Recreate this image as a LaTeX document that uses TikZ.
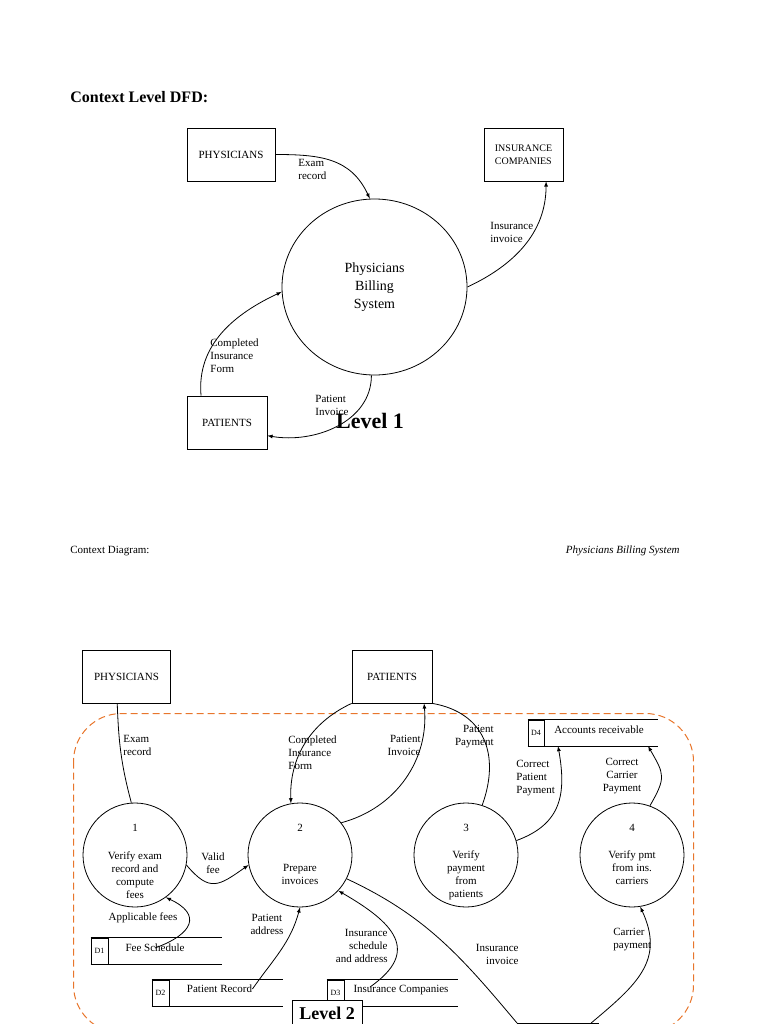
\documentclass[tikz,border=0pt]{standalone}
\usepackage{fontspec}
\setmainfont{Liberation Serif}
\usetikzlibrary{arrows,shapes.geometric}
\definecolor{dashorange}{RGB}{232,118,44}

\begin{document}
\begin{tikzpicture}[x=1pt,y=-1pt,>=latex,line width=0.8pt,
  every node/.style={font=\fontsize{11}{13}\selectfont,inner sep=0pt},
  ent/.style={draw,minimum width=88,minimum height=53},
  proc/.style={circle,draw,minimum size=104},
  lbl/.style={align=left},
  store/.style={draw,minimum width=17,minimum height=26,font=\fontsize{8}{9}\selectfont}]
  \useasboundingbox (0,0) rectangle (768,1024);
  \clip (0,0) rectangle (768,1024);
  \node[anchor=west,font=\fontsize{16}{19}\selectfont\bfseries] (t0) at (70,97) {Context Level DFD:};
  \node[ent] (0) at (231,154.5) {PHYSICIANS};
  \node[ent,minimum width=79,align=left,font=\fontsize{10}{13}\selectfont] (1) at (523.5,154.5) {INSURANCE\\COMPANIES};
  \node[ellipse,draw,minimum width=185,minimum height=176,align=center,font=\fontsize{14}{18}\selectfont] (2) at (374.5,287) {Physicians\\Billing\\System};
  \node[ent,minimum width=80] (3) at (227,422.5) {PATIENTS};
  \draw[->] (0.east) to[out=0,in=115,looseness=1.1] (2.93);
  \draw[->] (2.0) to[out=25,in=-90] (1.-50);
  \draw[->] (3.134) to[out=95,in=205] (2.183);
  \draw[->] (2.-92) to[out=-90,in=-10] (3.-18);
  \node[lbl,anchor=west] (4) at (298,169.5) {Exam\\record};
  \node[lbl,anchor=west] (5) at (490,232.5) {Insurance\\invoice};
  \node[lbl,anchor=west] (6) at (210,356) {Completed\\Insurance\\Form};
  \node[lbl,anchor=west] (7) at (315,405.5) {Patient\\Invoice};
  \node[font=\fontsize{22}{26}\selectfont\bfseries] (8) at (370,421) {Level 1};
  \node[anchor=west] (9) at (70,551) {Context Diagram:};
  \node[anchor=east,font=\fontsize{11}{13}\selectfont\itshape] (10) at (680,551) {Physicians Billing System};

  \draw[dashorange,line width=1pt,dash pattern=on 7pt off 4pt,rounded corners=48] (73.5,713.5) rectangle (693.5,1033);
  \node[ent] (11) at (126.5,676.5) {PHYSICIANS};
  \node[ent,minimum width=80] (12) at (392,676.5) {PATIENTS};
  \node[proc] (13) at (135,855) {};
  \node[proc] (14) at (300,855) {};
  \node[proc] (15) at (466,855) {};
  \node[proc] (16) at (632,855) {};
  \node (n1) at (135,828) {1};
  \node (n2) at (300,828) {2};
  \node (n3) at (466,828) {3};
  \node (n4) at (632,828) {4};
  \node[align=center] (p1) at (135,875) {Verify exam\\record and\\compute\\fees};
  \node[align=center] (p2) at (300,874.5) {Prepare\\invoices};
  \node[align=center] (p3) at (466,875) {Verify\\payment\\from\\patients};
  \node[align=center] (p4) at (632,868) {Verify pmt\\from ins.\\carriers};
  \node[store] (17) at (99.5,951) {D1};
  \draw (17.north west) -- ++(131,0) (17.south west) -- ++(131,0);
  \node[store] (18) at (160.5,993) {D2};
  \draw (18.north west) -- ++(131,0) (18.south west) -- ++(131,0);
  \node[store] (19) at (335.5,993) {D3};
  \draw (19.north west) -- ++(131,0) (19.south west) -- ++(131,0);
  \node[store,minimum width=16] (20) at (536,733) {D4};
  \draw (20.north west) -- ++(130,0) (20.south west) -- ++(130,0);
  \node (21) at (155,948) {Fee Schedule};
  \node (22) at (219.5,989) {Patient Record};
  \node (23) at (401,990) {Insurance Companies};
  \node (24) at (599,730) {Accounts receivable};
  \node[ent,minimum width=81,anchor=north west] (25) at (517,1023) {};
  \coordinate (a3) at (370,987);
  \coordinate (a4) at (558,746);
  \coordinate (a5) at (648,746);
  \draw (11.-109) to[out=-88,in=105] (13.94);
  \draw[->] (12.south west) to[out=205,in=92] (14.100);
  \draw[->] (14.38) to[out=15,in=-85] (12.-40);
  \draw (12.south east) to[out=-10,in=70,looseness=1.2] (15.72);
  \draw[->] (15.16) to[out=20,in=-80,looseness=1.2] (a4);
  \draw[->] (16.70) to[out=60,in=-60,looseness=1.4] (a5);
  \draw[->] (13.-11) to[out=-50,in=215,looseness=1.5] (14.191);
  \draw[->] (21.center) to[out=20,in=-25,looseness=2] (13.-54);
  \draw[->] (22.east) to[out=55,in=-105] (14.-90);
  \draw[->] (a3) to[out=35,in=-30,looseness=1.6] (14.-43);
  \draw (14.-27) to[out=-25,in=130] (25.north west);
  \draw[->] (25.39) to[out=40,in=-65,looseness=1.2] (16.-81);
  \node[lbl,anchor=west] (26) at (123,745.5) {Exam\\record};
  \node[lbl,anchor=west] (27) at (288,752.5) {Completed\\Insurance\\Form};
  \node[align=right,anchor=east] (28) at (421,745.5) {Patient\\Invoice};
  \node[align=right,anchor=east] (29) at (494,736.5) {Patient\\Payment};
  \node[lbl,anchor=west] (30) at (516,778.5) {Correct\\Patient\\Payment};
  \node[align=center] (31) at (622,776) {Correct\\Carrier\\Payment};
  \node[align=center] (32) at (213,863.5) {Valid\\fee};
  \node (33) at (143,918) {Applicable fees};
  \node[align=center] (34) at (267,924.5) {Patient\\address};
  \node[align=right,anchor=east] (35) at (388,946) {Insurance\\schedule\\and address};
  \node[align=right,anchor=east] (36) at (519,954.5) {Insurance\\invoice};
  \node[lbl,anchor=west] (37) at (613,939.5) {Carrier\\payment};
  \node[draw,fill=white,minimum width=70,minimum height=26,font=\fontsize{18}{21}\selectfont\bfseries] (38) at (327,1013) {Level 2};
\end{tikzpicture}
\end{document}
